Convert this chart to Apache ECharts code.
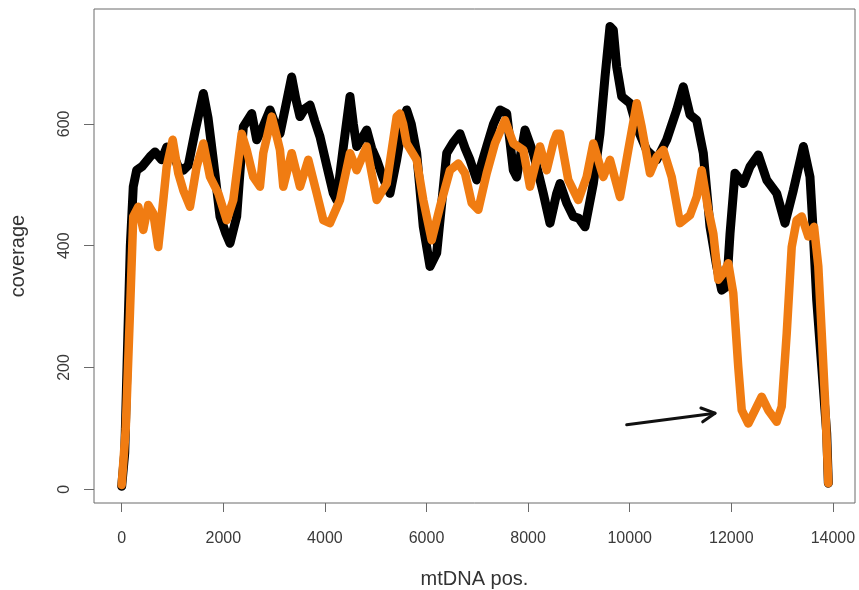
<!DOCTYPE html>
<html>
<head>
<meta charset="utf-8">
<script src="https://cdn.jsdelivr.net/npm/echarts@6/dist/echarts.min.js"></script>
<style>
html,body{margin:0;padding:0;background:#fff;}
#chart{width:859px;height:590px;}
</style>
</head>
<body>
<div id="chart"></div>
<script>
// ---- data ----
const xTicks = [0, 2000, 4000, 6000, 8000, 10000, 12000, 14000];
const yTicks = [0, 200, 400, 600];

const blackPos = [0,60,120,170,228,295,400,557,655,787,886,990,1110,1213,1311,1450,1607,1700,1803,1935,2050,2132,2264,2394,2559,2657,2780,2919,3020,3116,3230,3346,3430,3510,3607,3707,3800,3904,4040,4166,4232,4360,4494,4560,4626,4720,4823,4920,5020,5150,5281,5413,5530,5610,5700,5807,5937,6069,6201,6300,6398,6530,6659,6760,6856,6988,7185,7320,7447,7579,7709,7776,7939,8102,8200,8299,8431,8563,8628,8760,8890,9000,9120,9284,9415,9514,9612,9678,9744,9843,10006,10138,10335,10532,10728,10925,11055,11187,11319,11449,11581,11713,11811,11909,11975,12073,12237,12368,12532,12697,12894,13057,13221,13419,13549,13615,13681,13780,13878,13910];
const blackCov = [5,60,250,400,497,524,530,546,554,541,562,555,530,524,532,590,650,610,541,448,420,404,448,595,617,574,595,623,600,584,630,677,640,612,625,631,605,579,530,486,475,560,645,600,563,575,590,560,541,510,486,541,600,623,600,552,431,366,388,470,552,570,584,560,541,508,563,600,623,617,524,513,590,552,520,486,437,486,502,470,448,445,431,502,584,677,760,754,694,645,634,595,557,541,574,623,661,615,606,552,431,366,327,333,420,519,502,530,549,508,486,437,491,563,513,420,311,201,92,10];

const orangePos = [0,80,163,228,327,425,524,622,720,819,886,1004,1114,1213,1344,1476,1607,1738,1902,2067,2197,2362,2461,2590,2722,2787,2953,3050,3116,3181,3346,3510,3673,3839,3969,4100,4297,4494,4626,4823,5020,5217,5413,5478,5540,5610,5807,5937,6102,6266,6463,6626,6758,6890,7020,7185,7348,7545,7709,7906,8037,8234,8366,8500,8563,8628,8791,8988,9153,9284,9480,9612,9809,9972,10138,10236,10400,10532,10663,10827,10990,11187,11319,11417,11547,11646,11744,11843,11941,12039,12137,12205,12335,12467,12598,12728,12894,12992,13091,13189,13287,13386,13517,13629,13713,13780,13845,13910];
const orangeCov = [7,100,290,448,464,426,467,453,398,475,530,574,519,491,464,530,568,513,486,442,475,584,557,513,497,552,612,580,557,497,552,497,541,486,442,437,475,552,524,563,475,502,612,617,600,568,541,475,409,464,524,535,519,470,459,519,568,606,568,557,497,563,524,570,584,584,508,475,513,568,513,541,480,557,634,595,519,546,557,513,437,450,480,524,459,420,344,355,371,322,201,130,108,130,152,130,111,136,256,398,442,448,415,431,366,256,147,10];

// annotation arrow: tail (pos, cov) -> head (pos, cov)
const arrowTail = [9941, 106];
const arrowHead = [11679, 125];

const xName = 'mtDNA pos.';
const yName = 'coverage';

// ---- chart ----
const zip = (a, b) => a.map((v, i) => [v, b[i]]);
const font = "'Liberation Sans', Arial, sans-serif";
const plain = v => String(v);

const chart = echarts.init(document.getElementById('chart'), null, {renderer: 'canvas'});
chart.setOption({
  animation: false,
  backgroundColor: '#ffffff',
  grid: {
    left: 94, right: 4, top: 9, bottom: 87,
    containLabel: false, outerBoundsMode: 'none',
    show: true, borderColor: '#6a6a6a', borderWidth: 1, backgroundColor: 'transparent'
  },
  xAxis: {
    type: 'value',
    min: -545, max: 14435,
    name: xName, nameLocation: 'middle', nameGap: 66,
    nameTextStyle: {fontSize: 20, color: '#333', fontFamily: font},
    axisLine: {show: false, onZero: false},
    splitLine: {show: false},
    axisTick: {show: true, length: 9, customValues: xTicks, lineStyle: {color: '#6a6a6a', width: 1}},
    axisLabel: {customValues: xTicks, formatter: plain, margin: 28, fontSize: 16, color: '#3a3a3a', fontFamily: font}
  },
  yAxis: {
    type: 'value',
    min: -22.5, max: 788.7,
    name: yName, nameLocation: 'middle', nameGap: 66,
    nameTextStyle: {fontSize: 20, color: '#333', fontFamily: font},
    axisLine: {show: false, onZero: false},
    splitLine: {show: false},
    axisTick: {show: true, length: 10, customValues: yTicks, lineStyle: {color: '#6a6a6a', width: 1}},
    axisLabel: {customValues: yTicks, formatter: plain, rotate: 90, margin: 21, fontSize: 16, color: '#3a3a3a', fontFamily: font}
  },
  series: [
    {
      type: 'line', name: 'black', data: zip(blackPos, blackCov),
      showSymbol: false, symbol: 'none', clip: false,
      lineStyle: {color: '#000000', width: 9, cap: 'round', join: 'round'},
      z: 2
    },
    {
      type: 'line', name: 'orange', data: zip(orangePos, orangeCov),
      showSymbol: false, symbol: 'none', clip: false,
      lineStyle: {color: '#F07C12', width: 8.5, cap: 'round', join: 'round'},
      z: 3
    },
    {
      type: 'custom', name: 'arrow', z: 4,
      data: [[arrowTail[0], arrowTail[1], arrowHead[0], arrowHead[1]]],
      encode: {x: [0, 2], y: [1, 3]},
      renderItem: function (params, api) {
        const p1 = api.coord([api.value(0), api.value(1)]);
        const p2 = api.coord([api.value(2), api.value(3)]);
        const ang = Math.atan2(p2[1] - p1[1], p2[0] - p1[0]);
        const len = 15, spread = Math.PI / 6.5;
        const w1 = [p2[0] - len * Math.cos(ang - spread), p2[1] - len * Math.sin(ang - spread)];
        const w2 = [p2[0] - len * Math.cos(ang + spread), p2[1] - len * Math.sin(ang + spread)];
        const st = {stroke: '#111', lineWidth: 3, fill: null, lineCap: 'round', lineJoin: 'round'};
        return {
          type: 'group',
          children: [
            {type: 'line', shape: {x1: p1[0], y1: p1[1], x2: p2[0], y2: p2[1]}, style: st},
            {type: 'polyline', shape: {points: [w1, p2, w2]}, style: st}
          ]
        };
      }
    }
  ]
});
</script>
</body>
</html>
